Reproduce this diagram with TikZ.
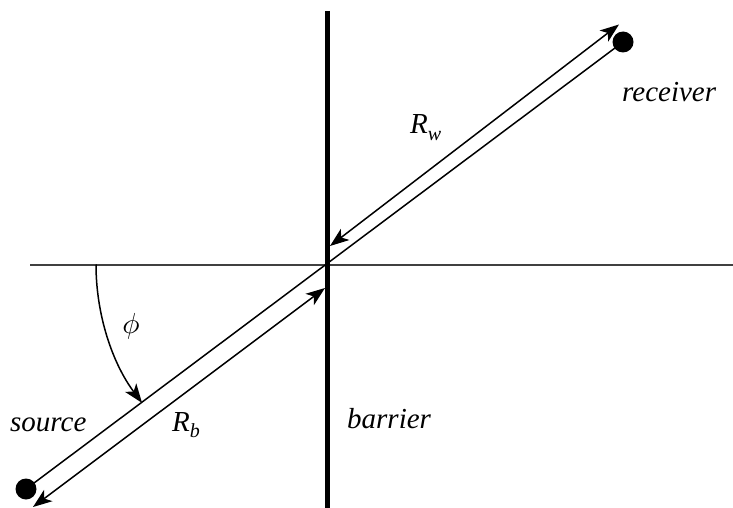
\documentclass[tikz,border=0pt]{standalone}
\usepackage{fontspec}
\setmainfont{Liberation Serif}
\usetikzlibrary{arrows.meta}
\begin{document}
\begin{tikzpicture}[x=1pt,y=-1pt,
 lbl/.style={font=\fontsize{29}{34}\selectfont\itshape, inner sep=0pt, anchor=base west},
 ray/.style={line width=1.5pt},
 dbl/.style={line width=1.5pt, {Stealth[length=19pt,width=14pt,inset=5pt]}-{Stealth[length=19pt,width=14pt,inset=5pt]}},
 dot/.style={circle, fill=black, inner sep=0pt, minimum size=21pt},
 barrierline/.style={line width=5pt},
 axisline/.style={line width=2pt, draw={rgb,255:red,64;green,64;blue,64}}]
\useasboundingbox (0,0) rectangle (733,508);
% coordinates
\coordinate (C) at (327,264.5);
\coordinate (btop) at (327,11);
\coordinate (bbot) at (327,508);
\coordinate (hl) at (30,264.5);
\coordinate (hr) at (733,264.5);
\node[dot] (S) at (26,489) {};
\node[dot] (Rc) at (623,42) {};
\coordinate (b1) at (325,288);
\coordinate (b2) at (33,507);
\coordinate (w1) at (330,246);
\coordinate (w2) at (619,24.5);
\coordinate (a0) at (96,264.5);
% lines
\draw[axisline] (hl) -- (hr);
\draw[barrierline] (btop) -- (bbot);
\draw[ray] (S.center) -- (Rc.center);
\draw[dbl] (b2) -- (b1);
\draw[dbl] (w1) -- (w2);
\draw[line width=1.5pt, -{Stealth[length=19pt,width=14pt,inset=5pt]}] (a0) arc[start angle=180, end angle=143.2, radius=231];
% labels
\node[lbl] (lrec) at (622,102) {receiver};
\node[lbl] (lsrc) at (10,431) {source};
\node[lbl] (lbar) at (347,428) {barrier};
\node[lbl] (lrw) at (410,134) {R\raisebox{-0.22em}{\fontsize{20}{24}\selectfont w}};
\node[lbl] (lrb) at (172,431) {R\raisebox{-0.22em}{\fontsize{20}{24}\selectfont b}};
\node[inner sep=0pt] (lphi) at (131,326) {\scalebox{2.9}{$\phi$}};
\end{tikzpicture}
\end{document}
